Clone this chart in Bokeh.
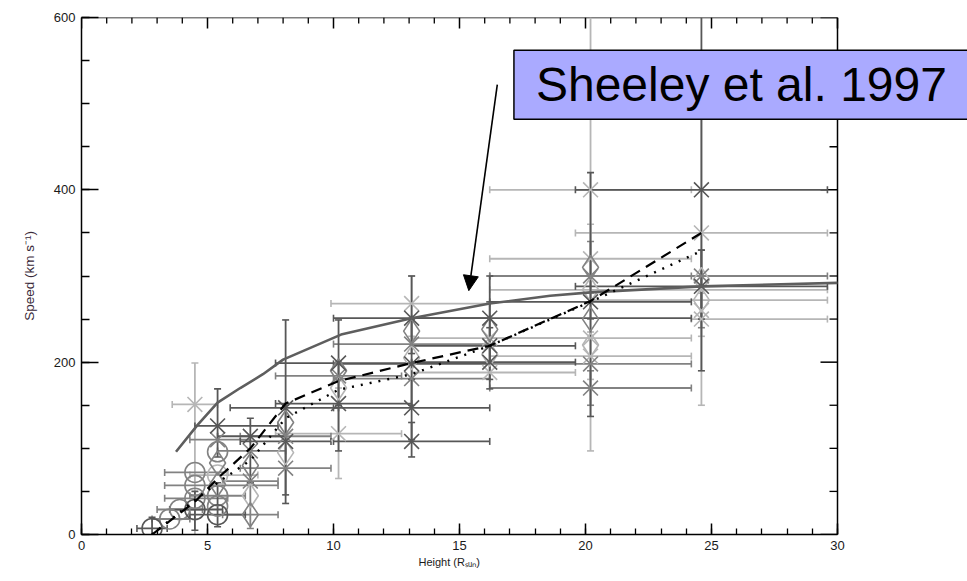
import numpy as np
from bokeh.plotting import figure
from bokeh.models import (Range1d, LinearAxis, Label, Arrow, NormalHead, Title,
                          ColumnDataSource, SingleIntervalTicker)
from bokeh.embed import file_html
from bokeh.resources import INLINE

# ---------------- data ----------------
# measured points: height (R_sun), speed (km/s), error bar ends, marker, grey shade
PT_H = [24.6, 24.6, 24.6, 24.6, 24.6, 24.6, 24.6, 24.6,
        20.2, 20.2, 20.2, 20.2, 20.2, 20.2, 20.2, 20.2, 20.2, 20.2, 20.2, 20.2,
        16.2, 16.2, 16.2, 16.2, 16.2, 16.2, 16.2,
        13.1, 13.1, 13.1, 13.1, 13.1, 13.1, 13.1, 13.1, 13.1,
        10.2, 10.2, 10.2, 10.2, 10.2, 10.2,
        8.1, 8.1, 8.1, 8.1, 8.1, 8.1,
        6.7, 6.7, 6.7, 6.7, 6.7, 6.7,
        5.4, 5.4, 5.4, 5.4, 5.4, 5.4, 5.4, 5.4, 5.4,
        4.5, 4.5, 4.5, 4.5, 4.5,
        3.9, 3.5, 2.8]
PT_V = [400, 350, 300, 296, 288, 272, 260, 250,
        400, 320, 310, 300, 284, 270, 250, 228, 220, 207, 198, 170,
        251, 238, 228, 219, 209, 200, 188,
        268, 251, 236, 221, 205, 198, 181, 147, 108,
        199, 190, 184, 170, 152, 117,
        147, 130, 114, 108, 95, 77,
        114, 97, 80, 62, 45, 23,
        126, 110, 96, 83, 69, 58, 45, 33, 23,
        151, 72, 57, 42, 29,
        29, 18, 7]
PT_XLO = [19.6, 19.6, 16.2, 24.6, 19.6, 20.2, 24.6, 24.2,
          16.2, 16.2, 20.2, 16.2, 16.2, 16.2, 20.2, 16.2, 20.2, 16.2, 16.2, 16.2,
          13.1, 16.2, 13.1, 13.1, 16.2, 13.1, 13.1,
          9.9, 10.0, 13.1, 10.0, 13.1, 10.0, 10.0, 10.0, 10.0,
          7.7, 10.2, 7.7, 10.2, 7.7, 7.7,
          5.9, 8.1, 6.3, 6.3, 8.1, 6.3,
          5.4, 5.4, 6.7, 5.6, 6.7, 5.6,
          4.5, 4.3, 5.4, 5.4, 4.3, 5.4, 4.3, 5.4, 4.3,
          3.6, 3.3, 3.3, 3.3, 3.5,
          3.0, 2.8, 2.2]
PT_XHI = [29.6, 29.6, 29.6, 24.6, 29.6, 29.6, 24.6, 29.6,
          24.2, 24.2, 20.2, 24.2, 29.6, 24.2, 20.2, 24.2, 20.2, 24.2, 24.2, 24.2,
          24.2, 16.2, 20.2, 19.6, 16.2, 19.6, 19.6,
          16.2, 16.2, 13.1, 16.2, 13.1, 16.2, 16.2, 16.2, 16.2,
          13.1, 10.2, 12.7, 10.2, 13.1, 12.7,
          10.2, 8.1, 9.9, 9.9, 8.1, 9.9,
          8.1, 8.1, 6.7, 7.8, 6.7, 7.8,
          7.8, 6.7, 5.4, 5.4, 7.0, 5.4, 6.5, 5.4, 6.5,
          5.4, 5.8, 7.8, 5.8, 5.6,
          4.8, 4.3, 3.4]
PT_VLO = [190, 150, 240, 296, 250, 272, 260, 230,
          97, 280, 310, 250, 284, 137, 250, 228, 220, 180, 198, 150,
          200, 238, 228, 169, 209, 180, 188,
          230, 210, 236, 221, 205, 150, 181, 110, 90,
          150, 190, 184, 170, 97, 65,
          46, 130, 114, 36, 95, 77,
          60, 97, 80, 62, 45, 7,
          90, 110, 96, 83, 69, 58, 45, 33, 9,
          -30, 72, 57, 42, 5,
          29, 18, -30]
PT_VHI = [650, 560, 330, 296, 330, 272, 260, 280,
          650, 360, 310, 340, 284, 420, 250, 228, 220, 235, 198, 190,
          300, 238, 228, 270, 209, 240, 188,
          300, 300, 236, 221, 205, 250, 181, 180, 130,
          249, 190, 184, 170, 200, 170,
          249, 130, 114, 150, 95, 77,
          135, 97, 80, 62, 45, 60,
          169, 110, 96, 83, 69, 58, 45, 33, 60,
          199, 72, 57, 42, 50,
          29, 18, 20]
PT_MARK = ["x", "x", "x", "diamond", "x", "diamond", "x", "x",
           "x", "x", "diamond", "x", "diamond", "x", "diamond", "x", "diamond", "x", "x", "x",
           "x", "diamond", "x", "x", "diamond", "x", "x",
           "x", "x", "diamond", "x", "diamond", "x", "x", "x", "x",
           "x", "diamond", "x", "diamond", "x", "x",
           "x", "diamond", "x", "x", "diamond", "x",
           "x", "x", "diamond", "x", "diamond", "diamond",
           "x", "x", "circle", "diamond", "circle", "diamond", "circle", "circle", "circle",
           "x", "circle", "circle", "circle", "circle",
           "circle", "circle", "circle"]
PT_SHADE = ["D", "L", "M", "L", "D", "L", "L", "L",
            "L", "L", "M", "M", "L", "D", "M", "L", "L", "L", "M", "M",
            "D", "M", "L", "D", "L", "D", "L",
            "L", "D", "M", "M", "L", "D", "M", "D", "D",
            "D", "M", "M", "L", "D", "L",
            "D", "M", "M", "D", "L", "M",
            "D", "M", "M", "M", "L", "M",
            "D", "M", "M", "M", "L", "M", "M", "M", "D",
            "L", "M", "M", "M", "D",
            "M", "M", "D"]

# Sheeley et al. (1997) profile
SHEELEY_H = [3.75, 4.6, 5.4, 6.3, 7.2, 8.0, 10.3, 13.1, 16.2, 18.6, 20.2, 24.6, 30.0]
SHEELEY_V = [96, 127, 153, 170, 186, 203, 232, 251, 268, 277, 281, 288, 292]

# mean profiles
MEAN_H = [2.8, 4.5, 5.4, 6.7, 8.1, 10.2, 13.1, 16.2, 20.2, 24.6]
DASH_V = [0, 38, 65, 100, 152, 178, 199, 219, 271, 350]
DOT_V = [0, 40, 60, 86, 135, 168, 186, 219, 270, 329]

X_MAX, Y_MAX = 30, 600
X_TICK_STEP, X_MINOR_STEP = 5, 1
Y_TICK_STEP, Y_MINOR_STEP = 200, 50

SHADES = {"L": "#b6b6b6", "M": "#828282", "D": "#575757"}
FONT = "Liberation Sans"

# frame spans from the left axis to the right edge of the page; the data area ends at X_MAX
LEFT, RIGHT_DATA, WIDTH = 81, 837, 967
TOP, BOTTOM, HEIGHT = 17, 534, 581
X_END = X_MAX * (WIDTH - LEFT) / (RIGHT_DATA - LEFT)
PX_X = (RIGHT_DATA - LEFT) / X_MAX      # pixels per x unit
PX_Y = (BOTTOM - TOP) / Y_MAX           # pixels per y unit

p = figure(width=WIDTH, height=HEIGHT, output_backend="svg", toolbar_location=None,
           x_range=Range1d(0, X_END), y_range=Range1d(0, Y_MAX),
           min_border_left=LEFT, min_border_right=0, min_border_top=TOP,
           min_border_bottom=HEIGHT - BOTTOM, x_axis_location=None, y_axis_location=None)
p.grid.visible = False
p.outline_line_color = None
p.background_fill_color = "white"
p.border_fill_color = "white"


def style_axis(ax, major, minor):
    ax.major_tick_in = major
    ax.major_tick_out = 0
    ax.minor_tick_in = minor
    ax.minor_tick_out = 0
    ax.axis_line_width = 1.5
    ax.major_tick_line_width = 1.5
    ax.minor_tick_line_width = 1.3
    ax.axis_line_color = "black"
    ax.major_tick_line_color = "black"
    ax.minor_tick_line_color = "black"
    ax.major_label_text_font = FONT
    ax.major_label_text_font_size = "13px"
    ax.major_label_text_color = "#1a1a1a"
    ax.major_label_standoff = 6


xb = LinearAxis(ticker=SingleIntervalTicker(interval=X_TICK_STEP, num_minor_ticks=5),
                bounds=(0, X_MAX))
style_axis(xb, 11, 6)
yl = LinearAxis(ticker=SingleIntervalTicker(interval=Y_TICK_STEP, num_minor_ticks=4))
style_axis(yl, 17, 8)
yl.axis_label = "Speed (km s\u207b\u00b9)"
yl.axis_label_text_font = FONT
yl.axis_label_text_font_size = "13.5px"
yl.axis_label_text_font_style = "normal"
yl.axis_label_text_color = "#3a2a3a"
yl.axis_label_standoff = 14
p.add_layout(xb, "below")
p.add_layout(yl, "left")
p.add_layout(Title(text="Height (R\u209b\u1d64\u2099)", align="left", offset=337,
                   text_font=FONT, text_font_size="11px", text_font_style="normal",
                   text_color="#1a1a1a", standoff=2), "below")

# mirrored top and right axes (no labels), drawn at the data-area border
top_major = np.arange(0, X_MAX + 0.01, X_TICK_STEP)
top_minor = np.setdiff1d(np.arange(0, X_MAX + 0.01, X_MINOR_STEP), top_major)
right_major = np.arange(0, Y_MAX + 0.01, Y_TICK_STEP)
right_minor = np.setdiff1d(np.arange(0, Y_MAX + 0.01, Y_MINOR_STEP), right_major)
p.segment(x0=[0, X_MAX], y0=[Y_MAX, 0], x1=[X_MAX, X_MAX], y1=[Y_MAX, Y_MAX],
          line_color="black", line_width=1.5)
p.segment(x0=top_major, y0=Y_MAX, x1=top_major, y1=Y_MAX - 11 / PX_Y,
          line_color="black", line_width=1.5)
p.segment(x0=top_minor, y0=Y_MAX, x1=top_minor, y1=Y_MAX - 6 / PX_Y,
          line_color="black", line_width=1.3)
p.segment(x0=X_MAX, y0=right_major, x1=X_MAX - 17 / PX_X, y1=right_major,
          line_color="black", line_width=1.5)
p.segment(x0=X_MAX, y0=right_minor, x1=X_MAX - 8 / PX_X, y1=right_minor,
          line_color="black", line_width=1.3)

# ---------------- data glyphs ----------------
H = np.array(PT_H, float)
V = np.array(PT_V, float)
XLO = np.array(PT_XLO, float)
XHI = np.array(PT_XHI, float)
VLO = np.array(PT_VLO, float)
VHI = np.array(PT_VHI, float)
MK = np.array(PT_MARK)
SH = np.array(PT_SHADE)

for s in ["L", "M", "D"]:
    col = SHADES[s]
    m = (SH == s) & (XHI > XLO)
    p.segment(x0=XLO[m], y0=V[m], x1=XHI[m], y1=V[m], line_color=col, line_width=1.8)
    p.scatter(x=np.concatenate([XLO[m], XHI[m]]), y=np.concatenate([V[m], V[m]]),
              marker="dash", angle=np.pi / 2, size=7, line_color=col, line_width=1.6)
    m = (SH == s) & (VHI > VLO)
    p.segment(x0=H[m], y0=VLO[m], x1=H[m], y1=np.minimum(VHI[m], Y_MAX),
              line_color=col, line_width=1.8)
    p.scatter(x=np.concatenate([H[m], H[m]]), y=np.concatenate([VLO[m], VHI[m]]),
              marker="dash", size=7, line_color=col, line_width=1.6)

for s in ["L", "M", "D"]:
    col = SHADES[s]
    for mk, size in [("circle", 20), ("diamond", 24), ("x", 21)]:
        m = (SH == s) & (MK == mk)
        if not m.any():
            continue
        src = ColumnDataSource(dict(x=H[m], y=V[m]))
        p.scatter("x", "y", source=src, marker=mk, size=size, fill_color=None,
                  line_color=col, line_width=1.6)

# profiles
p.line(SHEELEY_H, SHEELEY_V, line_color="#5e5e5e", line_width=2.6)
p.line(MEAN_H, DASH_V, line_color="black", line_width=2.2, line_dash="11 7")
p.line(MEAN_H, DOT_V, line_color="black", line_width=2.4, line_dash="2 7")

# callout
p.add_layout(Label(x=17.16, y=522, text="Sheeley et al. 1997", text_font=FONT,
                   text_font_size="48px", text_color="black", text_baseline="middle",
                   background_fill_color="#aaaaff", background_fill_alpha=1.0,
                   border_line_color="black", border_line_width=1.5,
                   padding=dict(left=22, right=24, top=8, bottom=8)))
p.add_layout(Arrow(x_start=16.5, y_start=522, x_end=15.37, y_end=283,
                   line_color="black", line_width=1.6,
                   end=NormalHead(size=15, fill_color="black", line_color="black")))

open("out.html", "w").write(file_html(p, INLINE))
